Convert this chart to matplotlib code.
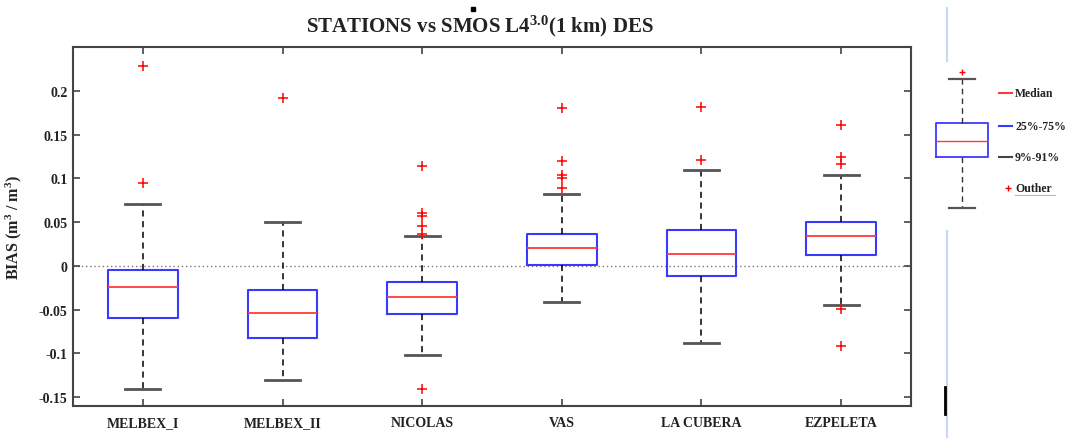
import matplotlib
matplotlib.use('Agg')
import matplotlib.pyplot as plt
from matplotlib.lines import Line2D
import matplotlib as mpl

mpl.rcParams['font.family'] = 'Liberation Serif'
mpl.rcParams['font.weight'] = 'bold'
mpl.rcParams['axes.labelweight'] = 'bold'
mpl.rcParams['mathtext.fontset'] = 'custom'
mpl.rcParams['mathtext.rm'] = 'Liberation Serif:bold'
mpl.rcParams['mathtext.it'] = 'Liberation Serif:bold'
mpl.rcParams['mathtext.bf'] = 'Liberation Serif:bold'

# data
stations = ['MELBEX_I', 'MELBEX_II', 'NICOLAS', 'VAS', 'LA CUBERA', 'EZPELETA']
medians = [-0.024, -0.054, -0.035, 0.020, 0.014, 0.0345]
q1 = [-0.0595, -0.0826, -0.0545, 0.0008, -0.0114, 0.0125]
q3 = [-0.005, -0.027, -0.0186, 0.036, 0.041, 0.0507]
whisk_lo = [-0.141, -0.130, -0.102, -0.0417, -0.088, -0.0443]
whisk_hi = [0.0705, 0.0496, 0.0345, 0.0818, 0.110, 0.104]
outliers = [
    [0.228, 0.095],
    [0.192],
    [0.114, 0.060, 0.057, 0.046, 0.037, -0.141],
    [0.180, 0.120, 0.1034, 0.100, 0.0894],
    [0.182, 0.121],
    [0.161, 0.124, 0.1167, -0.049, -0.0917],
]
ytick_vals = [-0.15, -0.1, -0.05, 0, 0.05, 0.1, 0.15, 0.2]
ytick_labels = ['-0.15', '-0.1', '-0.05', '0', '0.05', '0.1', '0.15', '0.2']

# legend sample box (legend axes units)
legend_box = dict(med=88, q1=71.7, q3=105.7, whislo=21, whishi=149.7, fliers=[157.3])
legend_labels = ['Median', '25%-75%', '9%-91%', 'Outher']

box_col = '#3a3aff'
med_col = '#ff3a3a'
cap_col = '#555555'
txt_col = '#222222'

fig = plt.figure(figsize=(10.70, 4.39), dpi=100)
ax = fig.add_axes([73 / 1070, 1 - 407 / 439, (911 - 73) / 1070, (407 - 48) / 439])

stats = []
for i in range(len(stations)):
    stats.append(dict(med=medians[i], q1=q1[i], q3=q3[i], whislo=whisk_lo[i],
                      whishi=whisk_hi[i], fliers=outliers[i], label=stations[i]))

positions = list(range(1, len(stations) + 1))
ax.axhline(0, color='#777777', lw=1, ls=(0, (1, 2)), zorder=0)
ax.bxp(stats, positions=positions, widths=0.5, capwidths=0.25,
       boxprops=dict(color=box_col, lw=1.5),
       medianprops=dict(color=med_col, lw=1.3),
       whiskerprops=dict(color='black', lw=1.1, ls=(0, (4, 3))),
       capprops=dict(color=cap_col, lw=2),
       flierprops=dict(marker='+', markeredgecolor='red', markersize=7, mew=1.1))

ax.set_xlim(0.5, 6.5)
ax.set_ylim(-0.16, 0.25)
ax.set_xticks(positions)
ax.set_xticklabels(stations, fontsize=10, color=txt_col)
ax.set_yticks(ytick_vals)
ax.set_yticklabels(ytick_labels, fontsize=10, color=txt_col)
ax.tick_params(direction='in', length=5, width=1.2, color='#444444', top=True, right=True)
ax.tick_params(axis='x', pad=7)
ax.tick_params(axis='y', pad=4)
for s in ax.spines.values():
    s.set_color('#444444')
    s.set_linewidth(1.5)
ax.set_ylabel('BIAS (m$^{3}$ / m$^{3}$)', fontsize=11.5, color=txt_col, fontweight='bold')
ax.yaxis.set_label_coords(-0.058, 0.5)

fig.text(480 / 1070, 1 - 26 / 439, 'STATIONS vs SMOS L4$^{3.0}$(1 km) DES',
         ha='center', va='center', fontsize=15, color=txt_col)
# stray dot above the O in the title
fig.add_artist(Line2D([472.7 / 1070], [1 - 10 / 439], marker='s', markersize=2.5,
                      color='black', lw=0))

# legend panel on the right
lax = fig.add_axes([920 / 1070, 1 - 230 / 439, 150 / 1070, 170 / 439])
lax.set_xlim(0, 150)
lax.set_ylim(0, 170)
lax.axis('off')
lax.bxp([legend_box], positions=[42], widths=52, capwidths=26,
        boxprops=dict(color=box_col, lw=1.3),
        medianprops=dict(color=med_col, lw=1),
        whiskerprops=dict(color='#333333', lw=1, ls=(0, (4, 3))),
        capprops=dict(color=cap_col, lw=1.6),
        flierprops=dict(marker='+', markeredgecolor='red', markersize=5, mew=1))
row_y = [136, 103.3, 71.7, 40.7]
row_col = [med_col, box_col, '#444444']
for k, lab in enumerate(legend_labels):
    if k < 3:
        lax.plot([79, 92], [row_y[k], row_y[k]], color=row_col[k], lw=1.5, clip_on=False)
    else:
        lax.plot([88], [row_y[k]], marker='+', color='red', markersize=4, mew=1, clip_on=False)
    lax.text(95, row_y[k], lab, fontsize=8.5, va='center', ha='left', color=txt_col)
lax.plot([95, 135], [row_y[3] - 7, row_y[3] - 7], color='#f4a0a0', lw=0.8)

# screenshot edge lines
fig.add_artist(Line2D([946.7 / 1070] * 2, [1 - 9 / 439, 1 - 62 / 439], color='#c5d8f5', lw=1.5))
fig.add_artist(Line2D([946.7 / 1070] * 2, [1 - 232 / 439, 0], color='#c5d8f5', lw=1.5))
fig.add_artist(Line2D([945 / 1070] * 2, [1 - 388 / 439, 1 - 415 / 439], color='black', lw=2))

fig.savefig('out.png', dpi=100)
